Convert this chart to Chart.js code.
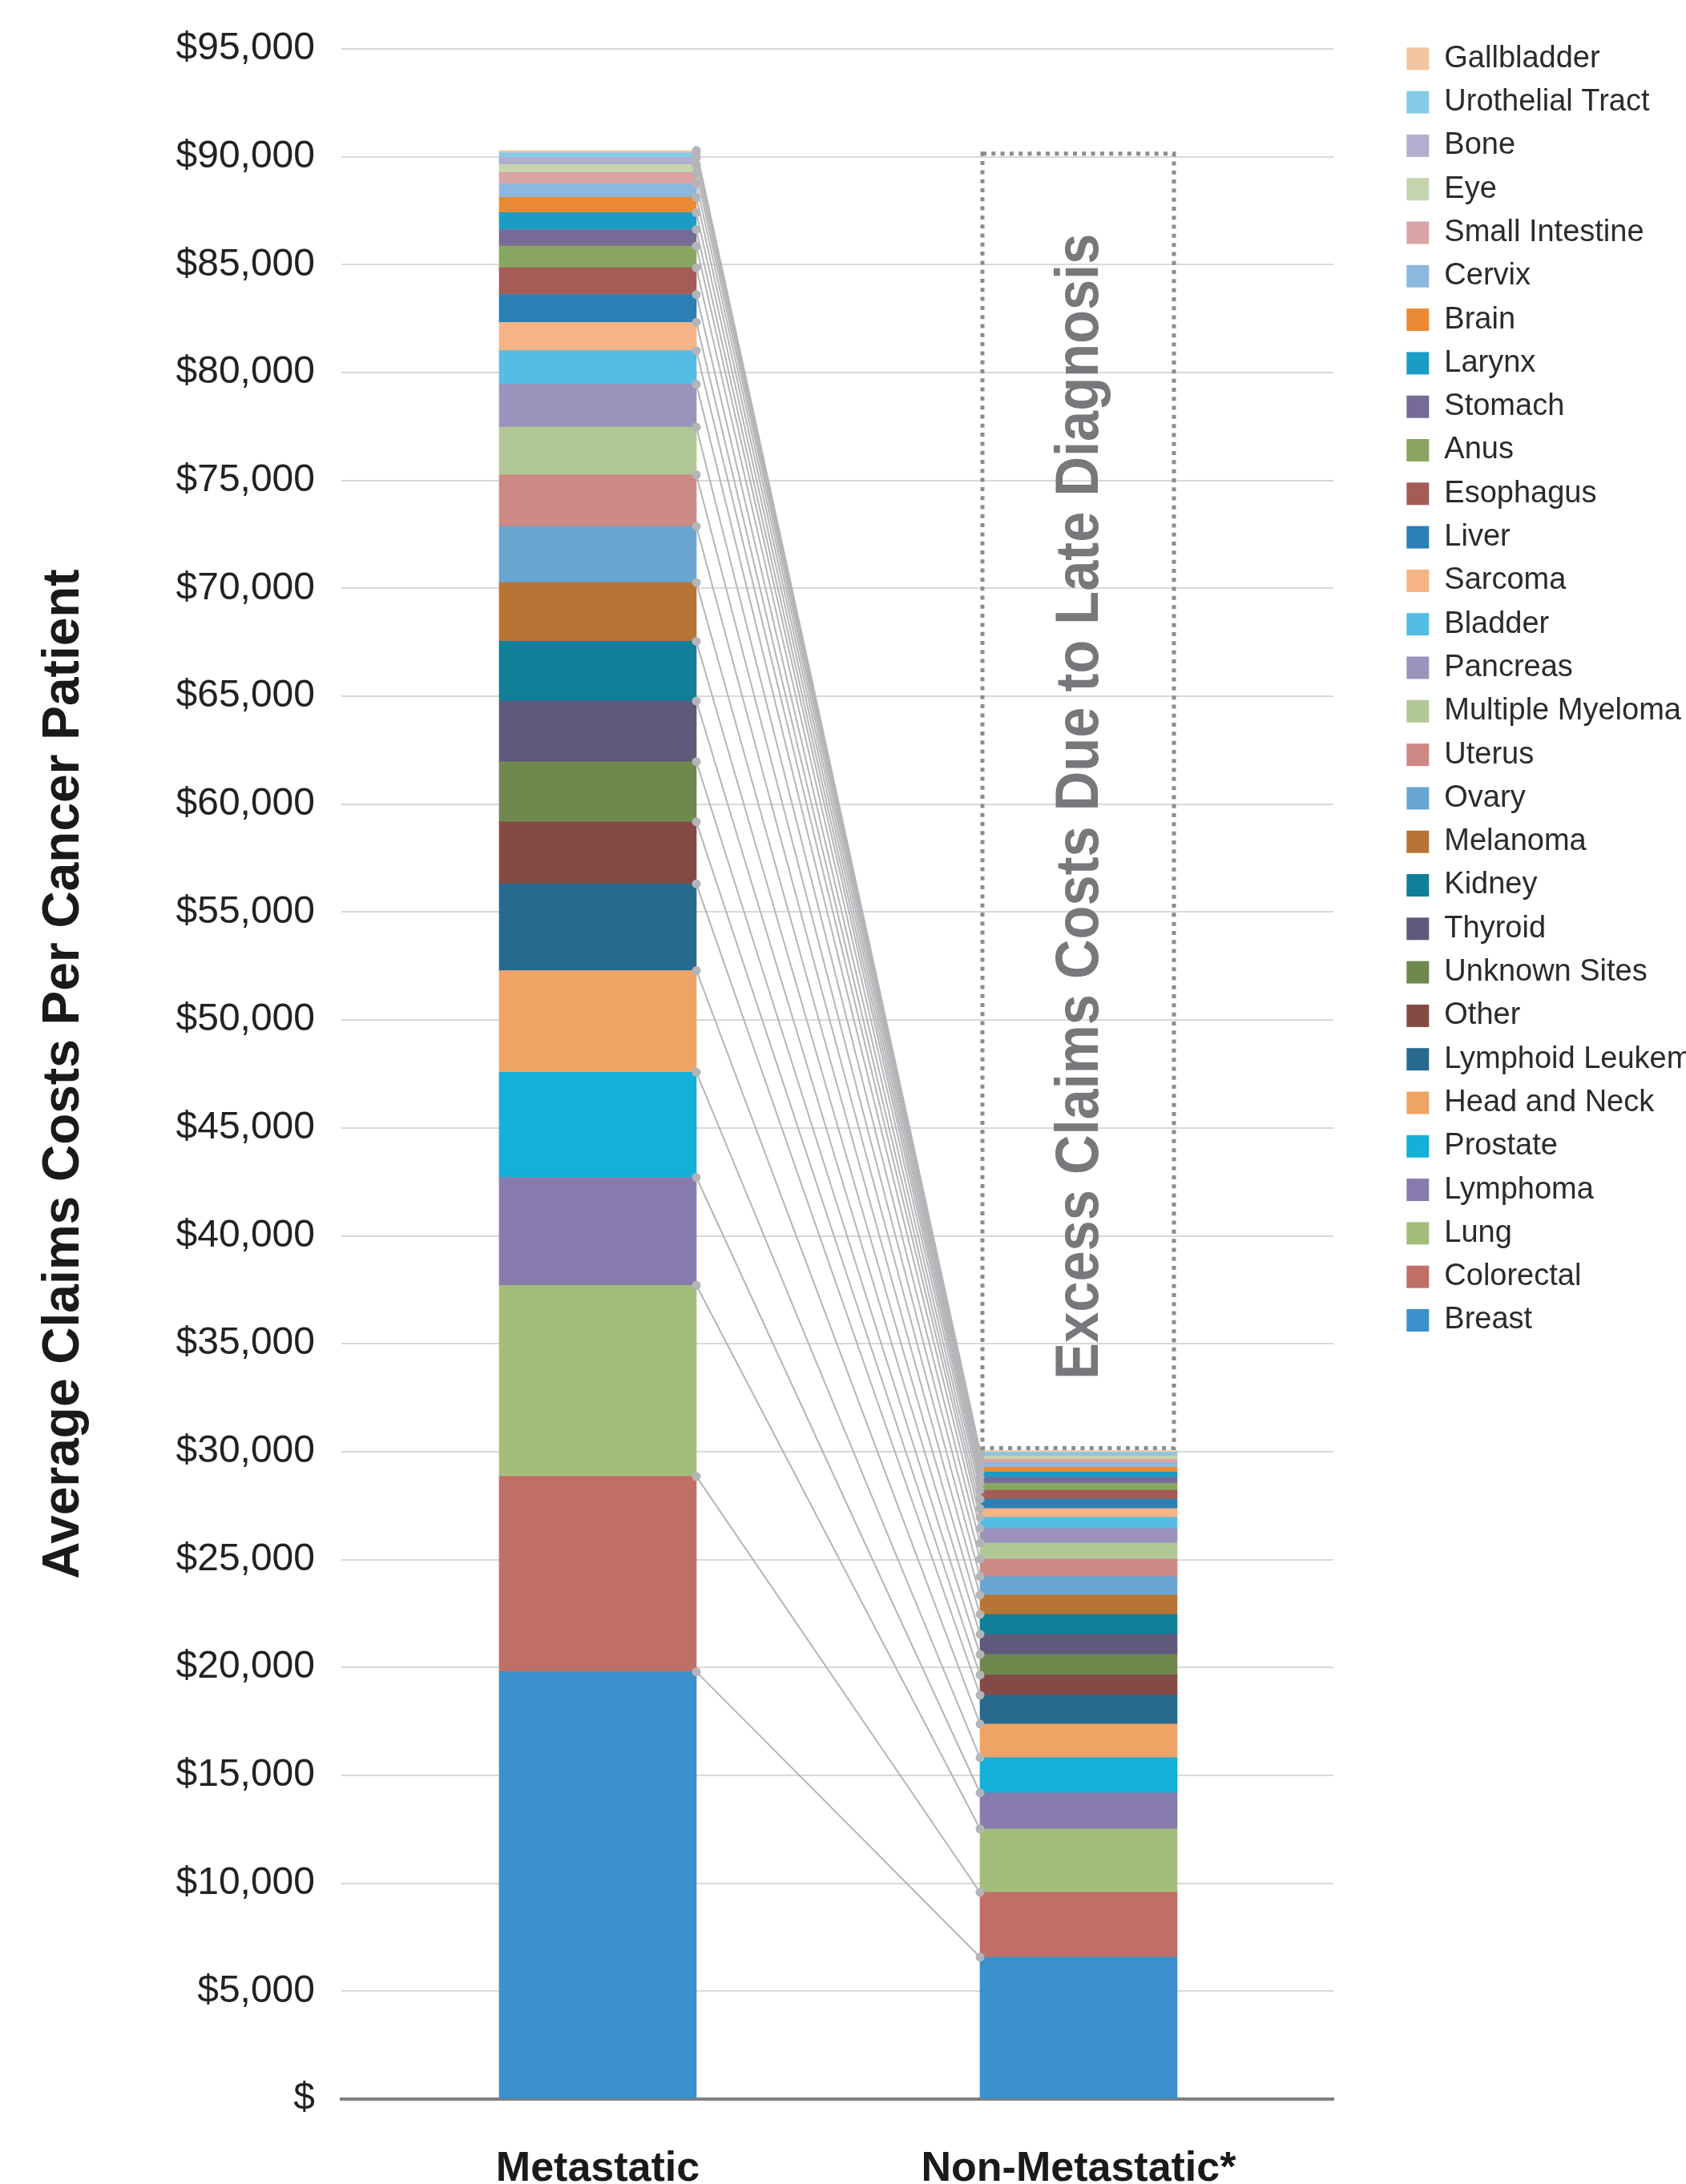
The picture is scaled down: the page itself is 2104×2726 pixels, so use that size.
<!DOCTYPE html>
<html>
<head>
<meta charset="utf-8">
<title>Average Claims Costs Per Cancer Patient</title>
<script src="https://cdn.jsdelivr.net/npm/chart.js@4.4.1/dist/chart.umd.min.js"></script>
<style>
  html, body { margin: 0; padding: 0; background: #fff; overflow: hidden; }
  #wrap { position: relative; width: 2104px; height: 2726px; }
</style>
</head>
<body>
<div id="wrap"><canvas id="cost-chart"></canvas></div>
<script>
// stage categories on the x axis
const categories = ['Metastatic', 'Non-Metastatic*'];

// cancer types, bottom of the stack first
const cancerTypes = [
  'Breast', 'Colorectal', 'Lung', 'Lymphoma', 'Prostate', 'Head and Neck',
  'Lymphoid Leukemia', 'Other', 'Unknown Sites', 'Thyroid', 'Kidney', 'Melanoma',
  'Ovary', 'Uterus', 'Multiple Myeloma', 'Pancreas', 'Bladder', 'Sarcoma',
  'Liver', 'Esophagus', 'Anus', 'Stomach', 'Larynx', 'Brain', 'Cervix',
  'Small Intestine', 'Eye', 'Bone', 'Urothelial Tract', 'Gallbladder'
];

// average claims cost contribution, metastatic bar
const metastatic = [
  19800, 9050, 8860, 5000, 4870, 4710,
  4020, 2870, 2790, 2810, 2770, 2720,
  2600, 2400, 2200, 1990, 1560, 1310,
  1290, 1240, 1000, 770, 780, 710, 630,
  520, 370, 330, 220, 100
];

// average claims cost contribution, non-metastatic bar
const nonMetastatic = [
  6580, 3000, 2940, 1670, 1630, 1560,
  1340, 930, 950, 940, 920, 900,
  850, 820, 740, 670, 520, 410,
  430, 410, 330, 270, 250, 220, 210,
  160, 160, 40, 130, 70
];

// y axis ticks
const yMax = 95000;
const yStep = 5000;

const palette = [
  '#3a91cb', '#c06f67', '#a3be7b', '#887cae', '#13b0d9', '#efa466',
  '#286a8e', '#844a46', '#6f884e', '#5f5a7b', '#107f97', '#b87434',
  '#69a5d1', '#cd8985', '#b1c896', '#9c93bd', '#55bde4', '#f4b485',
  '#2a7fb5', '#a45c56', '#88a660', '#766b97', '#1a9dc4', '#ea8a34', '#8db8de',
  '#d9a5a5', '#c6d4b0', '#b2aece', '#86cbe8', '#f3c6a2'
];

const excessLabel = 'Excess Claims Costs Due to Late Diagnosis';

const datasets = cancerTypes.map((name, i) => ({
  label: name,
  data: [
    { x: 0, y: metastatic[i] },
    { x: 1, y: nonMetastatic[i] }
  ],
  backgroundColor: palette[i],
  borderWidth: 0,
  barThickness: 246,
  yAxisID: 'y'
}));

// grey lines joining each segment top across the two bars
const connectors = {
  id: 'connectors',
  afterDatasetsDraw(chart) {
    const ctx = chart.ctx;
    const ends = [];
    chart.data.datasets.forEach((ds, i) => {
      const bars = chart.getDatasetMeta(i).data;
      const a = bars[0], b = bars[1];
      ends.push([a.x + a.width / 2, a.y, b.x - b.width / 2, b.y]);
    });
    ctx.save();
    ctx.strokeStyle = '#b4b5b8';
    ctx.lineWidth = 2;
    ends.forEach(e => {
      ctx.beginPath();
      ctx.moveTo(e[0], e[1]);
      ctx.lineTo(e[2], e[3]);
      ctx.stroke();
    });
    ctx.fillStyle = '#b4b5b8';
    ends.forEach(e => {
      ctx.beginPath();
      ctx.arc(e[0], e[1], 5.5, 0, Math.PI * 2);
      ctx.fill();
      ctx.beginPath();
      ctx.arc(e[2], e[3], 5.5, 0, Math.PI * 2);
      ctx.fill();
    });
    ctx.restore();
  }
};

// dotted box over the non-metastatic bar showing the gap
const excessBox = {
  id: 'excessBox',
  afterDatasetsDraw(chart) {
    const ctx = chart.ctx;
    const y = chart.scales.y;
    const n = chart.data.datasets.length;
    const bar = chart.getDatasetMeta(n - 1).data[1];
    const total = arr => arr.reduce((s, v) => s + v, 0);
    const left = bar.x - bar.width / 2 + 3;
    const right = bar.x + bar.width / 2 - 4;
    const top = y.getPixelForValue(total(metastatic)) + 4;
    const bottom = y.getPixelForValue(total(nonMetastatic)) - 3;
    ctx.save();
    ctx.strokeStyle = '#8b8c8f';
    ctx.lineWidth = 5;
    ctx.setLineDash([5, 6.3]);
    ctx.strokeRect(left, top, right - left, bottom - top);
    ctx.setLineDash([]);
    ctx.translate((left + right) / 2 + 4, (top + bottom) / 2 + 7);
    ctx.rotate(-Math.PI / 2);
    ctx.fillStyle = '#77787b';
    ctx.font = 'bold 76px "Liberation Sans", Arial, sans-serif';
    ctx.textAlign = 'center';
    ctx.textBaseline = 'middle';
    ctx.fillText(excessLabel, 0, 0, 1430);
    ctx.restore();
  }
};

new Chart(document.getElementById('cost-chart'), {
  type: 'bar',
  data: { datasets },
  options: {
    responsive: true,
    maintainAspectRatio: false,
    devicePixelRatio: 1,
    animation: false,
    layout: { padding: { top: 38, left: 42, right: 0, bottom: 0 } },
    scales: {
      x: {
        type: 'linear',
        stacked: true,
        offset: false,
        min: -0.5333,
        max: 1.53,
        afterBuildTicks(s) { s.ticks = categories.map((c, i) => ({ value: i })); },
        afterFit(s) { s.height = 106; },
        grid: { display: false, drawTicks: false, offset: false },
        border: { display: true, color: '#7f7f82', width: 4 },
        ticks: {
          padding: 56,
          color: '#1a1a1a',
          font: { family: '"Liberation Sans", Arial, sans-serif', size: 52, weight: 'bold' },
          callback: v => categories[v]
        }
      },
      y: {
        stacked: true,
        min: 0,
        max: yMax,
        afterFit(s) { s.width = 384; s.paddingTop = 61; },
        grid: { color: '#d9d9d9', lineWidth: 2, drawTicks: false },
        border: { display: false },
        ticks: {
          stepSize: yStep,
          padding: 33,
          color: '#222',
          font: { family: '"Liberation Sans", Arial, sans-serif', size: 48 },
          callback: v => v === 0 ? '$' : '$' + v.toLocaleString('en-US')
        },
        title: {
          display: true,
          text: 'Average Claims Costs Per Cancer Patient',
          color: '#1a1a1a',
          padding: 0,
          font: { family: '"Liberation Sans", Arial, sans-serif', size: 64, weight: 'bold' }
        }
      },
      // empty spacer between the plot and the legend
      gap: {
        type: 'linear',
        position: 'right',
        display: true,
        grid: { display: false, drawTicks: false },
        border: { display: false },
        ticks: { display: false },
        afterFit(s) { s.width = 75; }
      }
    },
    plugins: {
      tooltip: { enabled: false },
      legend: {
        position: 'right',
        align: 'start',
        reverse: true,
        maxWidth: 365,
        labels: {
          boxWidth: 28,
          boxHeight: 28,
          padding: 16.3,
          color: '#2b2b2b',
          font: { family: '"Liberation Sans", Arial, sans-serif', size: 38 }
        }
      }
    }
  },
  plugins: [connectors, excessBox]
});
</script>
</body>
</html>
